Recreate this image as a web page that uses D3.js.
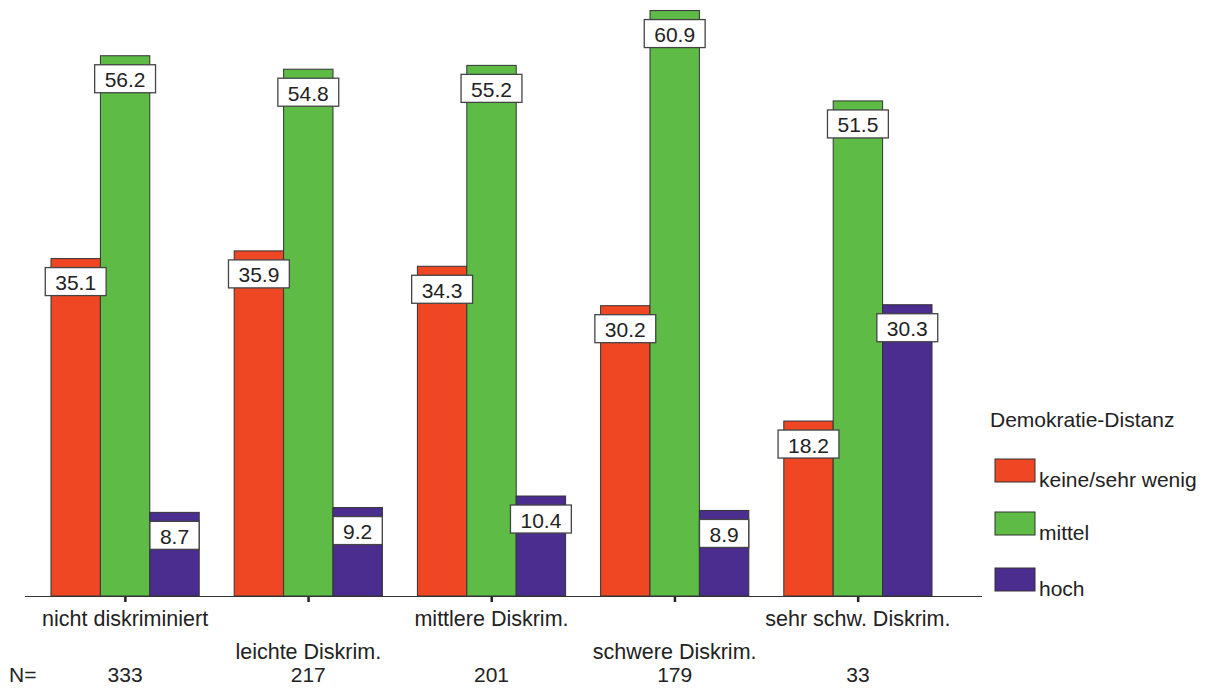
<!DOCTYPE html>
<html>
<head>
<meta charset="utf-8">
<script src="https://cdn.jsdelivr.net/npm/d3@7"></script>
<style>
html,body{margin:0;padding:0;background:#fff;}
svg{display:block;}
text{font-family:"Liberation Sans",Arial,Helvetica,sans-serif;fill:#222;}
</style>
</head>
<body>
<svg id="chart" width="1209" height="688"></svg>
<script>
const categories = ["nicht diskriminiert","leichte Diskrim.","mittlere Diskrim.","schwere Diskrim.","sehr schw. Diskrim."];
const seriesNames = ["keine/sehr wenig","mittel","hoch"];
const keineValues = [35.1, 35.9, 34.3, 30.2, 18.2];
const mittelValues = [56.2, 54.8, 55.2, 60.9, 51.5];
const hochValues = [8.7, 9.2, 10.4, 8.9, 30.3];
const nValues = [333, 217, 201, 179, 33];
const colors = ["#EF4723", "#5DBB46", "#4B2D8F"];
const legendTitle = "Demokratie-Distanz";

const seriesValues = [keineValues, mittelValues, hochValues];
const svg = d3.select("#chart");
const baseY = 596;

const x0 = d3.scaleBand().domain(categories).range([33.5, 949.5]).paddingInner(0.191).paddingOuter(0.0955);
const x1 = d3.scaleBand().domain(seriesNames).range([0, x0.bandwidth()]).padding(0);
const y = d3.scaleLinear().domain([0, 62]).range([baseY, 0]);

const data = [];
categories.forEach((c, i) => {
  seriesNames.forEach((s, j) => data.push({cat: c, ser: s, j, v: seriesValues[j][i]}));
});

// bars
svg.append("g").selectAll("rect").data(data).join("rect")
  .attr("x", d => x0(d.cat) + x1(d.ser))
  .attr("y", d => y(d.v))
  .attr("width", x1.bandwidth())
  .attr("height", d => baseY - y(d.v))
  .attr("fill", d => colors[d.j])
  .attr("stroke", "#333")
  .attr("stroke-width", 1);

// axis line
svg.append("line").attr("x1", 25).attr("x2", 982).attr("y1", baseY + 0.5).attr("y2", baseY + 0.5)
  .attr("stroke", "#333").attr("stroke-width", 1);
// ticks
svg.append("g").selectAll("rect").data(categories).join("rect")
  .attr("x", d => x0(d) + x0.bandwidth() / 2 - 1)
  .attr("y", baseY + 1).attr("width", 2.5).attr("height", 5).attr("fill", "#222");

// value labels
const lg = svg.append("g").selectAll("g").data(data).join("g")
  .attr("transform", d => `translate(${x0(d.cat) + x1(d.ser) + x1.bandwidth() / 2},${y(d.v) + 9})`);
lg.each(function(d) {
  const g = d3.select(this);
  const t = g.append("text").attr("text-anchor", "middle").attr("y", 22.5)
    .attr("font-size", 21).text(d.v.toFixed(1));
  const w = t.node().getComputedTextLength() + 20;
  g.insert("rect", "text").attr("x", -w / 2).attr("y", 0).attr("width", w).attr("height", 28)
    .attr("fill", "#fff").attr("stroke", "#444").attr("stroke-width", 1.3);
});

// category labels (staggered)
svg.append("g").selectAll("text").data(categories).join("text")
  .attr("x", d => x0(d) + x0.bandwidth() / 2)
  .attr("y", (d, i) => i % 2 === 0 ? 626 : 659)
  .attr("text-anchor", "middle").attr("font-size", 21.5)
  .text(d => d);

// N row
svg.append("text").attr("x", 9).attr("y", 682).attr("font-size", 21).text("N=");
svg.append("g").selectAll("text").data(nValues).join("text")
  .attr("x", (d, i) => x0(categories[i]) + x0.bandwidth() / 2)
  .attr("y", 682).attr("text-anchor", "middle").attr("font-size", 21)
  .text(d => d);

// legend
svg.append("text").attr("x", 990).attr("y", 427).attr("font-size", 21).text(legendTitle);
const legY = [459, 512, 568];
const leg = svg.append("g").selectAll("g").data(seriesNames).join("g")
  .attr("transform", (d, i) => `translate(995,${legY[i]})`);
leg.append("rect").attr("width", 40).attr("height", 23)
  .attr("fill", (d, i) => colors[i]).attr("stroke", "#333").attr("stroke-width", 1);
leg.append("text").attr("x", 44).attr("y", 28).attr("font-size", 21).text(d => d);
</script>
</body>
</html>
